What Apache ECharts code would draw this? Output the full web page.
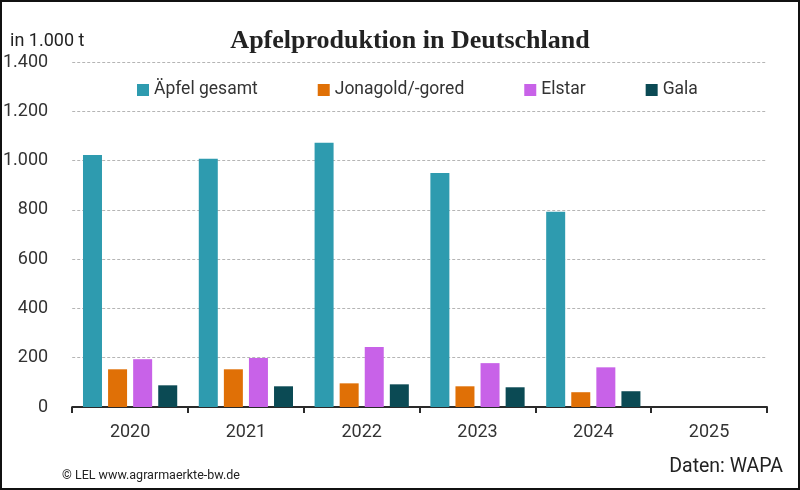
<!DOCTYPE html>
<html>
<head>
<meta charset="utf-8">
<script src="https://cdn.jsdelivr.net/npm/echarts@6/dist/echarts.min.js"></script>
<style>
html,body{margin:0;padding:0;background:#fff;}
#frame{position:absolute;left:0;top:0;width:800px;height:490px;box-sizing:border-box;border:2px solid #111;}
#chart{position:absolute;left:0;top:0;width:800px;height:490px;}
</style>
</head>
<body>
<div id="chart"></div>
<div id="frame"></div>
<script>
const years = ['2020', '2021', '2022', '2023', '2024', '2025'];
const seriesNames = ['Äpfel gesamt', 'Jonagold/-gored', 'Elstar', 'Gala'];
const aepfelGesamt = [1023, 1007, 1072, 950, 792, null];
const jonagold = [153, 153, 96, 84, 60, null];
const elstar = [194, 199, 243, 178, 161, null];
const gala = [88, 84, 92, 80, 64, null];
const colors = ['#2E9BAF', '#E07006', '#C862E8', '#0B4A54'];

const values = [aepfelGesamt, jonagold, elstar, gala];
const font = 'Roboto, "Noto Sans", sans-serif';

const chart = echarts.init(document.getElementById('chart'), null, {renderer: 'canvas'});
chart.setOption({
  animation: false,
  backgroundColor: '#fff',
  title: {
    text: 'Apfelproduktion in Deutschland',
    left: 405, textAlign: 'center', top: 23,
    textStyle: {fontFamily: '"Liberation Serif", serif', fontWeight: 'bold', fontSize: 26, color: '#222'}
  },
  graphic: [
    {type: 'text', left: 10, top: 32, style: {text: 'in 1.000 t', fontFamily: font, fontSize: 18, fill: '#222'}},
    {type: 'text', right: 17, top: 457, style: {text: 'Daten: WAPA', fontFamily: font, fontSize: 19.5, fill: '#222'}},
    {type: 'text', left: 62, top: 469, style: {text: '© LEL www.agrarmaerkte-bw.de', fontFamily: font, fontSize: 12.5, fill: '#222'}}
  ],
  legend: {
    left: 137, top: 81, padding: 0,
    itemWidth: 12, itemHeight: 12, itemGap: 60,
    icon: 'rect',
    textStyle: {fontFamily: font, fontSize: 17.5, color: '#333'},
    data: seriesNames
  },
  grid: {left: 69, right: 33, top: 62, bottom: 83, containLabel: false},
  xAxis: {
    type: 'category', data: years,
    axisLine: {lineStyle: {color: '#2a2a2a', width: 2}},
    axisTick: {show: true, length: 6, lineStyle: {color: '#2a2a2a', width: 2}},
    axisLabel: {fontFamily: font, fontSize: 18, color: '#333', margin: 16}
  },
  yAxis: {
    type: 'value', min: 0, max: 1400, interval: 200,
    axisLine: {show: false}, axisTick: {show: false},
    splitLine: {lineStyle: {color: '#b5b5b5', type: [3, 2], width: 1}},
    axisLabel: {
      fontFamily: font, fontSize: 18, color: '#333', margin: 24,
      formatter: v => v.toLocaleString('de-DE')
    }
  },
  series: seriesNames.map((n, i) => ({
    name: n, type: 'bar', data: values[i],
    barWidth: 19, barGap: '32%',
    itemStyle: {color: colors[i]}
  }))
});
</script>
</body>
</html>
